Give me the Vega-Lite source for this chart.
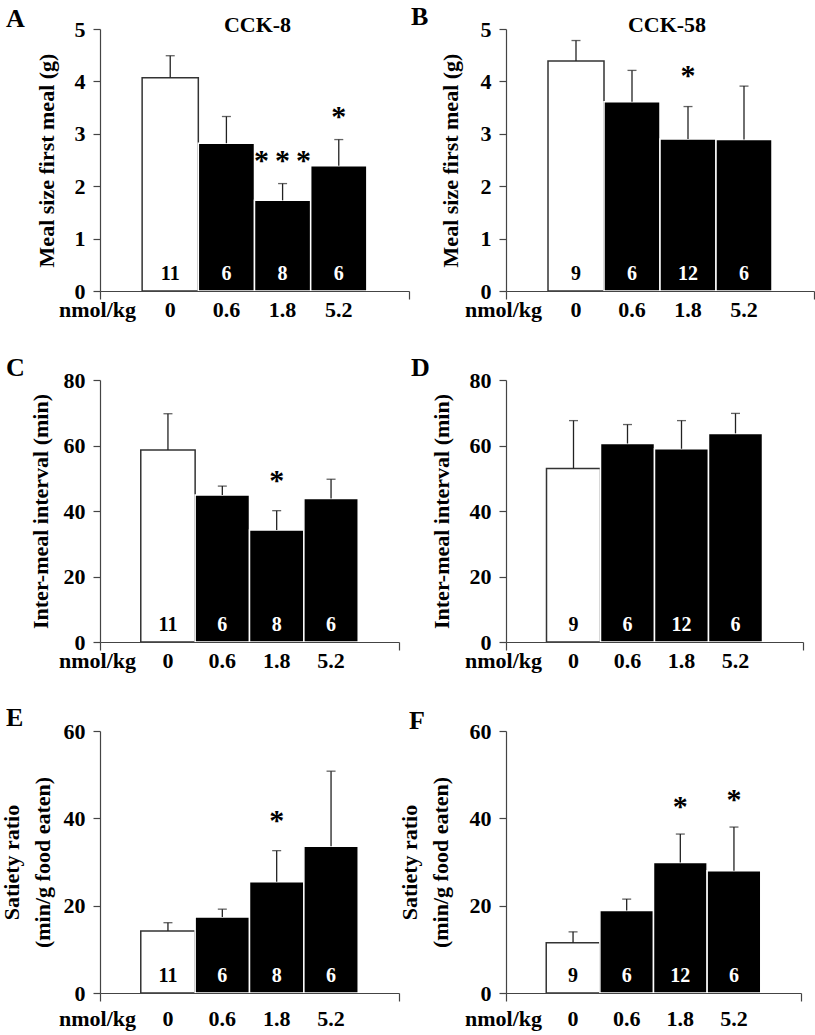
{
  "$schema": "https://vega.github.io/schema/vega-lite/v6.json",
  "padding": {"left": 0, "top": 4, "right": 2, "bottom": 2},
  "bounds": "flush",
  "columns": 2,
  "spacing": {"row": 89, "column": 97},
  "datasets": {
    "d": [
      {"panel": "A", "dose": "0", "mean": 4.07, "hi": 4.49, "n": "11", "sig": ""},
      {"panel": "A", "dose": "0.6", "mean": 2.82, "hi": 3.33, "n": "6", "sig": ""},
      {"panel": "A", "dose": "1.8", "mean": 1.73, "hi": 2.05, "n": "8", "sig": "*\u2009*\u2009*"},
      {"panel": "A", "dose": "5.2", "mean": 2.39, "hi": 2.89, "n": "6", "sig": "*"},
      {"panel": "B", "dose": "0", "mean": 4.39, "hi": 4.78, "n": "9", "sig": ""},
      {"panel": "B", "dose": "0.6", "mean": 3.61, "hi": 4.21, "n": "6", "sig": ""},
      {"panel": "B", "dose": "1.8", "mean": 2.90, "hi": 3.52, "n": "12", "sig": "*"},
      {"panel": "B", "dose": "5.2", "mean": 2.89, "hi": 3.91, "n": "6", "sig": ""},
      {"panel": "C", "dose": "0", "mean": 58.6, "hi": 69.7, "n": "11", "sig": ""},
      {"panel": "C", "dose": "0.6", "mean": 44.9, "hi": 47.6, "n": "6", "sig": ""},
      {"panel": "C", "dose": "1.8", "mean": 34.2, "hi": 40.1, "n": "8", "sig": "*"},
      {"panel": "C", "dose": "5.2", "mean": 43.8, "hi": 49.7, "n": "6", "sig": ""},
      {"panel": "D", "dose": "0", "mean": 53.0, "hi": 67.6, "n": "9", "sig": ""},
      {"panel": "D", "dose": "0.6", "mean": 60.6, "hi": 66.4, "n": "6", "sig": ""},
      {"panel": "D", "dose": "1.8", "mean": 59.0, "hi": 67.6, "n": "12", "sig": ""},
      {"panel": "D", "dose": "5.2", "mean": 63.7, "hi": 69.8, "n": "6", "sig": ""},
      {"panel": "E", "dose": "0", "mean": 14.2, "hi": 16.1, "n": "11", "sig": ""},
      {"panel": "E", "dose": "0.6", "mean": 17.4, "hi": 19.2, "n": "6", "sig": ""},
      {"panel": "E", "dose": "1.8", "mean": 25.5, "hi": 32.6, "n": "8", "sig": "*"},
      {"panel": "E", "dose": "5.2", "mean": 33.6, "hi": 50.8, "n": "6", "sig": ""},
      {"panel": "F", "dose": "0", "mean": 11.5, "hi": 14.0, "n": "9", "sig": ""},
      {"panel": "F", "dose": "0.6", "mean": 18.9, "hi": 21.5, "n": "6", "sig": ""},
      {"panel": "F", "dose": "1.8", "mean": 29.9, "hi": 36.4, "n": "12", "sig": "*"},
      {"panel": "F", "dose": "5.2", "mean": 28.0, "hi": 38.0, "n": "6", "sig": "*"}
    ]
  },
  "data": {"name": "d"},
  "concat": [
    {
      "width": 309, "height": 262,
      "title": {"text": "A", "dx": -94, "dy": 22},
      "transform": [{"filter": "datum.panel === 'A'"}],
      "layer": [
        {"layer": [
          {"mark": {"type": "bar", "strokeWidth": 1.5},
           "encoding": {
             "x": {"field": "dose", "type": "ordinal", "sort": null, "scale": {"domain": ["0", "0.6", "1.8", "5.2"], "paddingInner": 0, "paddingOuter": 0.75},
                   "axis": {"orient": "bottom", "domain": false, "ticks": false, "tickSize": 0, "labelAngle": 0, "labelBaseline": "alphabetic", "labelPadding": 25.5, "title": "nmol/kg", "titleAngle": 0, "titleX": -3, "titleY": 25.5, "titleAlign": "center", "titleBaseline": "alphabetic", "zindex": 1}},
             "y": {"field": "mean", "type": "quantitative", "scale": {"domain": [0, 5], "nice": false}, "axis": {"values": [0, 1, 2, 3, 4, 5], "title": "Meal size first meal (g)", "titlePadding": 16}},
             "fill": {"condition": {"test": "datum.dose === '0'", "value": "white"}, "value": "black"},
             "stroke": {"condition": {"test": "datum.dose === '0'", "value": "#333"}, "value": "white"}
           }},
          {"mark": {"type": "rule", "color": "#222", "strokeWidth": 1.3},
           "encoding": {"x": {"field": "dose", "type": "ordinal", "sort": null}, "y": {"field": "mean", "type": "quantitative"}, "y2": {"field": "hi"}}},
          {"mark": {"type": "tick", "orient": "horizontal", "size": 9, "thickness": 1.3, "color": "#222"},
           "encoding": {"x": {"field": "dose", "type": "ordinal", "sort": null}, "y": {"field": "hi", "type": "quantitative"}}},
          {"mark": {"type": "text", "fontSize": 20, "baseline": "alphabetic", "dy": -11},
           "encoding": {"x": {"field": "dose", "type": "ordinal", "sort": null}, "y": {"datum": 0, "type": "quantitative"}, "text": {"field": "n", "type": "nominal"},
             "color": {"condition": {"test": "datum.dose === '0'", "value": "black"}, "value": "white"}}},
          {"transform": [{"filter": "datum.sig !== ''"}],
           "mark": {"type": "text", "fontSize": 30, "baseline": "alphabetic", "dy": -14},
           "encoding": {"x": {"field": "dose", "type": "ordinal", "sort": null}, "y": {"field": "hi", "type": "quantitative"}, "text": {"field": "sig", "type": "nominal"}}},
          {"data": {"values": [{"panel": "A", "dose": "0.6", "label": "CCK-8"}]},
           "mark": {"type": "text", "fontSize": 22, "baseline": "alphabetic", "dy": 3, "dx": 3},
           "encoding": {"x": {"field": "dose", "type": "ordinal", "bandPosition": 1}, "y": {"datum": 5, "type": "quantitative"}, "text": {"field": "label", "type": "nominal"}}}
        ]},
        {"mark": {"type": "text"},
         "encoding": {"x": {"datum": 0, "type": "quantitative", "scale": {"domain": [0, 1], "nice": false, "zero": false},
                            "axis": {"orient": "bottom", "values": [0, 1], "labels": false, "ticks": true, "tickSize": 8, "domain": true, "title": null, "grid": false, "zindex": 1}},
                      "text": {"value": ""}}}
      ],
      "resolve": {"scale": {"x": "independent"}, "axis": {"x": "independent"}}
    },
    {
      "width": 308, "height": 262,
      "title": {"text": "B", "dx": -95, "dy": 20},
      "transform": [{"filter": "datum.panel === 'B'"}],
      "layer": [
        {"layer": [
          {"mark": {"type": "bar", "strokeWidth": 1.5},
           "encoding": {
             "x": {"field": "dose", "type": "ordinal", "sort": null, "scale": {"domain": ["0", "0.6", "1.8", "5.2"], "paddingInner": 0, "paddingOuter": 0.75},
                   "axis": {"orient": "bottom", "domain": false, "ticks": false, "tickSize": 0, "labelAngle": 0, "labelBaseline": "alphabetic", "labelPadding": 25.5, "title": "nmol/kg", "titleAngle": 0, "titleX": -3, "titleY": 25.5, "titleAlign": "center", "titleBaseline": "alphabetic", "zindex": 1}},
             "y": {"field": "mean", "type": "quantitative", "scale": {"domain": [0, 5], "nice": false}, "axis": {"values": [0, 1, 2, 3, 4, 5], "title": "Meal size first meal (g)", "titlePadding": 18}},
             "fill": {"condition": {"test": "datum.dose === '0'", "value": "white"}, "value": "black"},
             "stroke": {"condition": {"test": "datum.dose === '0'", "value": "#333"}, "value": "white"}
           }},
          {"mark": {"type": "rule", "color": "#222", "strokeWidth": 1.3},
           "encoding": {"x": {"field": "dose", "type": "ordinal", "sort": null}, "y": {"field": "mean", "type": "quantitative"}, "y2": {"field": "hi"}}},
          {"mark": {"type": "tick", "orient": "horizontal", "size": 9, "thickness": 1.3, "color": "#222"},
           "encoding": {"x": {"field": "dose", "type": "ordinal", "sort": null}, "y": {"field": "hi", "type": "quantitative"}}},
          {"mark": {"type": "text", "fontSize": 20, "baseline": "alphabetic", "dy": -11},
           "encoding": {"x": {"field": "dose", "type": "ordinal", "sort": null}, "y": {"datum": 0, "type": "quantitative"}, "text": {"field": "n", "type": "nominal"},
             "color": {"condition": {"test": "datum.dose === '0'", "value": "black"}, "value": "white"}}},
          {"transform": [{"filter": "datum.sig !== ''"}],
           "mark": {"type": "text", "fontSize": 30, "baseline": "alphabetic", "dy": -22},
           "encoding": {"x": {"field": "dose", "type": "ordinal", "sort": null}, "y": {"field": "hi", "type": "quantitative"}, "text": {"field": "sig", "type": "nominal"}}},
          {"data": {"values": [{"panel": "B", "dose": "0.6", "label": "CCK-58"}]},
           "mark": {"type": "text", "fontSize": 22, "baseline": "alphabetic", "dy": 3, "dx": 7},
           "encoding": {"x": {"field": "dose", "type": "ordinal", "bandPosition": 1}, "y": {"datum": 5, "type": "quantitative"}, "text": {"field": "label", "type": "nominal"}}}
        ]},
        {"mark": {"type": "text"},
         "encoding": {"x": {"datum": 0, "type": "quantitative", "scale": {"domain": [0, 1], "nice": false, "zero": false},
                            "axis": {"orient": "bottom", "values": [0, 1], "labels": false, "ticks": true, "tickSize": 8, "domain": true, "title": null, "grid": false, "zindex": 1}},
                      "text": {"value": ""}}}
      ],
      "resolve": {"scale": {"x": "independent"}, "axis": {"x": "independent"}}
    },
    {
      "width": 299, "height": 262,
      "title": {"text": "C", "dx": -94, "dy": 16},
      "transform": [{"filter": "datum.panel === 'C'"}],
      "layer": [
        {"layer": [
          {"mark": {"type": "bar", "strokeWidth": 1.5},
           "encoding": {
             "x": {"field": "dose", "type": "ordinal", "sort": null, "scale": {"domain": ["0", "0.6", "1.8", "5.2"], "paddingInner": 0, "paddingOuter": 0.75},
                   "axis": {"orient": "bottom", "domain": false, "ticks": false, "tickSize": 0, "labelAngle": 0, "labelBaseline": "alphabetic", "labelPadding": 25.5, "title": "nmol/kg", "titleAngle": 0, "titleX": -3, "titleY": 25.5, "titleAlign": "center", "titleBaseline": "alphabetic", "zindex": 1}},
             "y": {"field": "mean", "type": "quantitative", "scale": {"domain": [0, 80], "nice": false}, "axis": {"values": [0, 20, 40, 60, 80], "title": "Inter-meal interval (min)", "titlePadding": 11}},
             "fill": {"condition": {"test": "datum.dose === '0'", "value": "white"}, "value": "black"},
             "stroke": {"condition": {"test": "datum.dose === '0'", "value": "#333"}, "value": "white"}
           }},
          {"mark": {"type": "rule", "color": "#222", "strokeWidth": 1.3},
           "encoding": {"x": {"field": "dose", "type": "ordinal", "sort": null}, "y": {"field": "mean", "type": "quantitative"}, "y2": {"field": "hi"}}},
          {"mark": {"type": "tick", "orient": "horizontal", "size": 9, "thickness": 1.3, "color": "#222"},
           "encoding": {"x": {"field": "dose", "type": "ordinal", "sort": null}, "y": {"field": "hi", "type": "quantitative"}}},
          {"mark": {"type": "text", "fontSize": 20, "baseline": "alphabetic", "dy": -11},
           "encoding": {"x": {"field": "dose", "type": "ordinal", "sort": null}, "y": {"datum": 0, "type": "quantitative"}, "text": {"field": "n", "type": "nominal"},
             "color": {"condition": {"test": "datum.dose === '0'", "value": "black"}, "value": "white"}}},
          {"transform": [{"filter": "datum.sig !== ''"}],
           "mark": {"type": "text", "fontSize": 30, "baseline": "alphabetic", "dy": -21},
           "encoding": {"x": {"field": "dose", "type": "ordinal", "sort": null}, "y": {"field": "hi", "type": "quantitative"}, "text": {"field": "sig", "type": "nominal"}}}
        ]},
        {"mark": {"type": "text"},
         "encoding": {"x": {"datum": 0, "type": "quantitative", "scale": {"domain": [0, 1], "nice": false, "zero": false},
                            "axis": {"orient": "bottom", "values": [0, 1], "labels": false, "ticks": true, "tickSize": 8, "domain": true, "title": null, "grid": false, "zindex": 1}},
                      "text": {"value": ""}}}
      ],
      "resolve": {"scale": {"x": "independent"}, "axis": {"x": "independent"}}
    },
    {
      "width": 297, "height": 262,
      "title": {"text": "D", "dx": -95, "dy": 16},
      "transform": [{"filter": "datum.panel === 'D'"}],
      "layer": [
        {"layer": [
          {"mark": {"type": "bar", "strokeWidth": 1.5},
           "encoding": {
             "x": {"field": "dose", "type": "ordinal", "sort": null, "scale": {"domain": ["0", "0.6", "1.8", "5.2"], "paddingInner": 0, "paddingOuter": 0.75},
                   "axis": {"orient": "bottom", "domain": false, "ticks": false, "tickSize": 0, "labelAngle": 0, "labelBaseline": "alphabetic", "labelPadding": 25.5, "title": "nmol/kg", "titleAngle": 0, "titleX": -3, "titleY": 25.5, "titleAlign": "center", "titleBaseline": "alphabetic", "zindex": 1}},
             "y": {"field": "mean", "type": "quantitative", "scale": {"domain": [0, 80], "nice": false}, "axis": {"values": [0, 20, 40, 60, 80], "title": "Inter-meal interval (min)", "titlePadding": 16}},
             "fill": {"condition": {"test": "datum.dose === '0'", "value": "white"}, "value": "black"},
             "stroke": {"condition": {"test": "datum.dose === '0'", "value": "#333"}, "value": "white"}
           }},
          {"mark": {"type": "rule", "color": "#222", "strokeWidth": 1.3},
           "encoding": {"x": {"field": "dose", "type": "ordinal", "sort": null}, "y": {"field": "mean", "type": "quantitative"}, "y2": {"field": "hi"}}},
          {"mark": {"type": "tick", "orient": "horizontal", "size": 9, "thickness": 1.3, "color": "#222"},
           "encoding": {"x": {"field": "dose", "type": "ordinal", "sort": null}, "y": {"field": "hi", "type": "quantitative"}}},
          {"mark": {"type": "text", "fontSize": 20, "baseline": "alphabetic", "dy": -11},
           "encoding": {"x": {"field": "dose", "type": "ordinal", "sort": null}, "y": {"datum": 0, "type": "quantitative"}, "text": {"field": "n", "type": "nominal"},
             "color": {"condition": {"test": "datum.dose === '0'", "value": "black"}, "value": "white"}}}
        ]},
        {"mark": {"type": "text"},
         "encoding": {"x": {"datum": 0, "type": "quantitative", "scale": {"domain": [0, 1], "nice": false, "zero": false},
                            "axis": {"orient": "bottom", "values": [0, 1], "labels": false, "ticks": true, "tickSize": 8, "domain": true, "title": null, "grid": false, "zindex": 1}},
                      "text": {"value": ""}}}
      ],
      "resolve": {"scale": {"x": "independent"}, "axis": {"x": "independent"}}
    },
    {
      "width": 299, "height": 262,
      "title": {"text": "E", "dx": -94, "dy": 15},
      "transform": [{"filter": "datum.panel === 'E'"}],
      "layer": [
        {"layer": [
          {"mark": {"type": "bar", "strokeWidth": 1.5},
           "encoding": {
             "x": {"field": "dose", "type": "ordinal", "sort": null, "scale": {"domain": ["0", "0.6", "1.8", "5.2"], "paddingInner": 0, "paddingOuter": 0.75},
                   "axis": {"orient": "bottom", "domain": false, "ticks": false, "tickSize": 0, "labelAngle": 0, "labelBaseline": "alphabetic", "labelPadding": 32, "title": "nmol/kg", "titleAngle": 0, "titleX": -3, "titleY": 32, "titleAlign": "center", "titleBaseline": "alphabetic", "zindex": 1}},
             "y": {"field": "mean", "type": "quantitative", "scale": {"domain": [0, 60], "nice": false}, "axis": {"values": [0, 20, 40, 60], "title": ["Satiety ratio", "(min/g food eaten)"], "titleLineHeight": 31, "titlePadding": 9}},
             "fill": {"condition": {"test": "datum.dose === '0'", "value": "white"}, "value": "black"},
             "stroke": {"condition": {"test": "datum.dose === '0'", "value": "#333"}, "value": "white"}
           }},
          {"mark": {"type": "rule", "color": "#222", "strokeWidth": 1.3},
           "encoding": {"x": {"field": "dose", "type": "ordinal", "sort": null}, "y": {"field": "mean", "type": "quantitative"}, "y2": {"field": "hi"}}},
          {"mark": {"type": "tick", "orient": "horizontal", "size": 9, "thickness": 1.3, "color": "#222"},
           "encoding": {"x": {"field": "dose", "type": "ordinal", "sort": null}, "y": {"field": "hi", "type": "quantitative"}}},
          {"mark": {"type": "text", "fontSize": 20, "baseline": "alphabetic", "dy": -11},
           "encoding": {"x": {"field": "dose", "type": "ordinal", "sort": null}, "y": {"datum": 0, "type": "quantitative"}, "text": {"field": "n", "type": "nominal"},
             "color": {"condition": {"test": "datum.dose === '0'", "value": "black"}, "value": "white"}}},
          {"transform": [{"filter": "datum.sig !== ''"}],
           "mark": {"type": "text", "fontSize": 30, "baseline": "alphabetic", "dy": -21},
           "encoding": {"x": {"field": "dose", "type": "ordinal", "sort": null}, "y": {"field": "hi", "type": "quantitative"}, "text": {"field": "sig", "type": "nominal"}}}
        ]},
        {"mark": {"type": "text"},
         "encoding": {"x": {"datum": 0, "type": "quantitative", "scale": {"domain": [0, 1], "nice": false, "zero": false},
                            "axis": {"orient": "bottom", "values": [0, 1], "labels": false, "ticks": true, "tickSize": 8, "domain": true, "title": null, "grid": false, "zindex": 1}},
                      "text": {"value": ""}}}
      ],
      "resolve": {"scale": {"x": "independent"}, "axis": {"x": "independent"}}
    },
    {
      "width": 295, "height": 262,
      "title": {"text": "F", "dx": -97, "dy": 18},
      "transform": [{"filter": "datum.panel === 'F'"}],
      "layer": [
        {"layer": [
          {"mark": {"type": "bar", "strokeWidth": 1.5},
           "encoding": {
             "x": {"field": "dose", "type": "ordinal", "sort": null, "scale": {"domain": ["0", "0.6", "1.8", "5.2"], "paddingInner": 0, "paddingOuter": 0.75},
                   "axis": {"orient": "bottom", "domain": false, "ticks": false, "tickSize": 0, "labelAngle": 0, "labelBaseline": "alphabetic", "labelPadding": 32, "title": "nmol/kg", "titleAngle": 0, "titleX": -3, "titleY": 32, "titleAlign": "center", "titleBaseline": "alphabetic", "zindex": 1}},
             "y": {"field": "mean", "type": "quantitative", "scale": {"domain": [0, 60], "nice": false}, "axis": {"values": [0, 20, 40, 60], "title": ["Satiety ratio", "(min/g food eaten)"], "titleLineHeight": 31, "titlePadding": 17}},
             "fill": {"condition": {"test": "datum.dose === '0'", "value": "white"}, "value": "black"},
             "stroke": {"condition": {"test": "datum.dose === '0'", "value": "#333"}, "value": "white"}
           }},
          {"mark": {"type": "rule", "color": "#222", "strokeWidth": 1.3},
           "encoding": {"x": {"field": "dose", "type": "ordinal", "sort": null}, "y": {"field": "mean", "type": "quantitative"}, "y2": {"field": "hi"}}},
          {"mark": {"type": "tick", "orient": "horizontal", "size": 9, "thickness": 1.3, "color": "#222"},
           "encoding": {"x": {"field": "dose", "type": "ordinal", "sort": null}, "y": {"field": "hi", "type": "quantitative"}}},
          {"mark": {"type": "text", "fontSize": 20, "baseline": "alphabetic", "dy": -11},
           "encoding": {"x": {"field": "dose", "type": "ordinal", "sort": null}, "y": {"datum": 0, "type": "quantitative"}, "text": {"field": "n", "type": "nominal"},
             "color": {"condition": {"test": "datum.dose === '0'", "value": "black"}, "value": "white"}}},
          {"transform": [{"filter": "datum.sig !== ''"}],
           "mark": {"type": "text", "fontSize": 30, "baseline": "alphabetic", "dy": -18},
           "encoding": {"x": {"field": "dose", "type": "ordinal", "sort": null}, "y": {"field": "hi", "type": "quantitative"}, "text": {"field": "sig", "type": "nominal"}}}
        ]},
        {"mark": {"type": "text"},
         "encoding": {"x": {"datum": 0, "type": "quantitative", "scale": {"domain": [0, 1], "nice": false, "zero": false},
                            "axis": {"orient": "bottom", "values": [0, 1], "labels": false, "ticks": true, "tickSize": 8, "domain": true, "title": null, "grid": false, "zindex": 1}},
                      "text": {"value": ""}}}
      ],
      "resolve": {"scale": {"x": "independent"}, "axis": {"x": "independent"}}
    }
  ],
  "config": {
    "view": {"stroke": null},
    "font": "Liberation Serif",
    "axis": {"labelFont": "Liberation Serif", "labelFontSize": 22, "labelFontWeight": "bold", "labelColor": "black", "titleFont": "Liberation Serif", "titleFontSize": 22, "titleFontWeight": "bold", "titleColor": "black", "domainColor": "#444", "tickColor": "#444", "domainWidth": 1.2, "tickWidth": 1.2, "grid": false},
    "axisY": {"tickSize": 7, "labelPadding": 8},
    "title": {"font": "Liberation Serif", "fontSize": 26, "fontWeight": "bold", "anchor": "start", "frame": "group", "color": "black", "baseline": "alphabetic", "offset": 0},
    "text": {"font": "Liberation Serif", "fontWeight": "bold", "color": "black"}
  }
}
